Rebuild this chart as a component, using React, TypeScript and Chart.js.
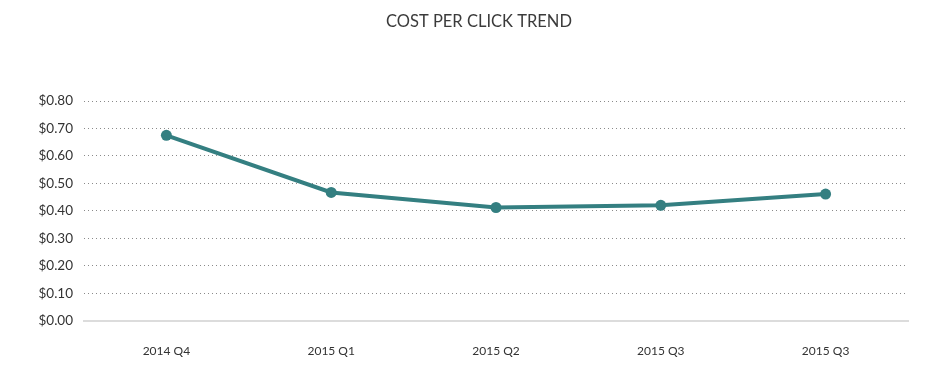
import React, { useEffect, useRef } from "react";
import { Chart, registerables } from "chart.js";

Chart.register(...registerables);

const title = "COST PER CLICK TREND";
const categories = ["2014 Q4", "2015 Q1", "2015 Q2", "2015 Q3", "2015 Q3"];
const costPerClick = [0.675, 0.467, 0.412, 0.42, 0.461];
const yTicks = [0, 0.1, 0.2, 0.3, 0.4, 0.5, 0.6, 0.7, 0.8];

const TEAL = "#347f81";
const FONT = "Lato, 'Open Sans', sans-serif";

const titlePlugin = {
  id: "offsetTitle",
  afterDraw(chart: any) {
    const ctx = chart.ctx;
    ctx.save();
    ctx.font = `16.5px ${FONT}`;
    ctx.fillStyle = "#3b3b3b";
    ctx.textAlign = "center";
    ctx.textBaseline = "middle";
    ctx.fillText(title, 479, 22);
    ctx.restore();
  },
};

export default function App() {
  const ref = useRef<HTMLCanvasElement | null>(null);

  useEffect(() => {
    document.body.style.margin = "0";
    const canvas = ref.current;
    if (!canvas) return;
    const chart = new Chart(canvas, {
      type: "line",
      data: {
        labels: categories,
        datasets: [
          {
            label: "Cost per click",
            data: costPerClick,
            borderColor: TEAL,
            backgroundColor: TEAL,
            pointBackgroundColor: TEAL,
            pointBorderColor: TEAL,
            borderWidth: 4,
            pointRadius: 5.5,
            pointBorderWidth: 0,
            tension: 0,
            fill: false,
          },
        ],
      },
      plugins: [titlePlugin],
      options: {
        animation: false,
        responsive: false,
        maintainAspectRatio: false,
        layout: { padding: { left: 0, right: 18, top: 101, bottom: 8 } },
        plugins: {
          legend: { display: false },
          tooltip: { enabled: false },
          title: { display: false },
        },
        scales: {
          x: {
            offset: true,
            grid: { display: false },
            border: { display: true, color: "#dcdcdc", width: 2 },
            ticks: {
              color: "#333",
              padding: 15,
              font: { family: FONT, size: 12 },
              maxRotation: 0,
              autoSkip: false,
            },
          },
          y: {
            min: 0,
            max: 0.8,
            afterBuildTicks: (scale: any) => {
              scale.ticks = yTicks.map((v) => ({ value: v }));
            },
            afterFit: (scale: any) => {
              scale.width = 84;
            },
            grid: {
              drawTicks: false,
              color: (ctx: any) => (ctx.tick && ctx.tick.value === 0 ? "rgba(0,0,0,0)" : "#8a8a8a"),
              lineWidth: 1,
            },
            border: { display: false, dash: [1, 3] },
            ticks: {
              color: "#333",
              padding: 11,
              font: { family: FONT, size: 13.5 },
              callback: (v: any) => "$" + Number(v).toFixed(2),
            },
          },
        },
      },
    });
    return () => chart.destroy();
  }, []);

  return (
    <div style={{ width: 926, height: 381 }}>
      <canvas ref={ref} width={926} height={381} style={{ width: 926, height: 381, display: "block" }} />
    </div>
  );
}
